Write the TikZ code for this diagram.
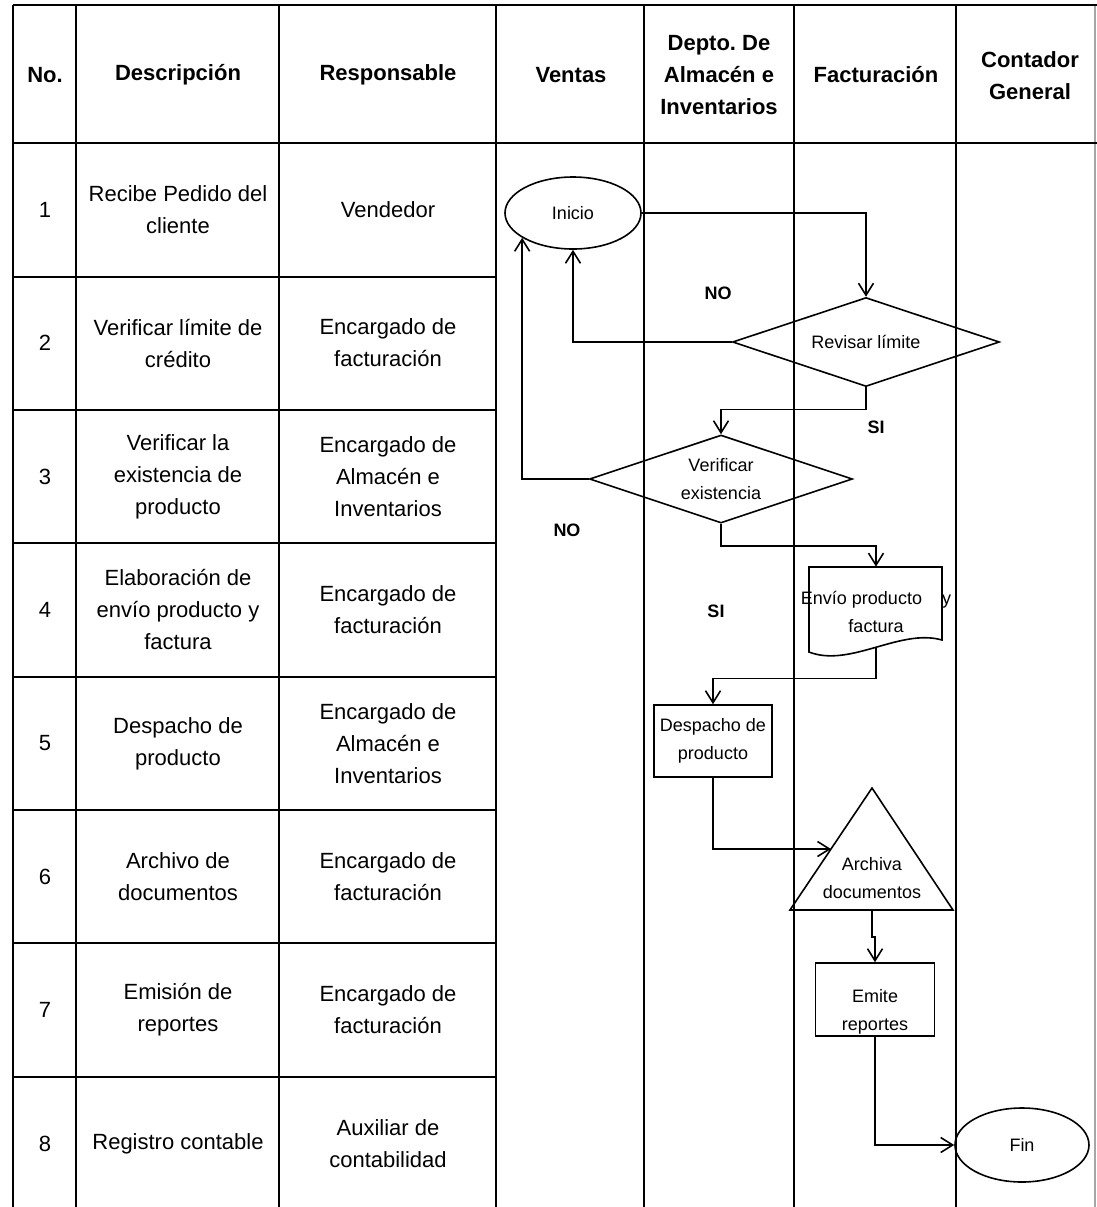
\documentclass[tikz,border=0pt]{standalone}
\usepackage{fontspec}
\setmainfont{Liberation Sans}
\usetikzlibrary{shapes.geometric,arrows.meta}
\frenchspacing

\begin{document}
\begin{tikzpicture}[x=0.5pt, y=-0.5pt, >={Straight Barb[length=6pt,width=7.5pt]},
    every node/.style={font=\fontsize{11}{16}\selectfont, align=center},
    rejilla/.style={line width=1.1pt},
    flujo/.style={line width=0.8pt},
    chico/.style={font=\fontsize{9}{14}\selectfont, inner sep=0pt},
    caja/.style={chico, draw, line width=0.8pt, rectangle},
    decision/.style={chico, draw, line width=0.8pt, diamond, aspect=3},
    terminal/.style={chico, draw, line width=0.8pt, ellipse},
    etiqueta/.style={font=\bfseries\fontsize{9}{14}\selectfont},
    encabezado/.style={font=\bfseries\fontsize{11}{16}\selectfont}]
    \useasboundingbox (0,0) rectangle (1097,1207);
    % table lines
    \foreach \x in {13,76,279,496,644,794,956}
      \draw[rejilla] (\x,5) -- (\x,1207);
    \draw[rejilla, black!35] (1095,5) -- (1095,1207);
    \draw[rejilla] (13,5) -- (1097,5);
    \draw[rejilla] (13,143) -- (1097,143);
    \foreach \y in {277,410,543,677,810,943,1077}
      \draw[rejilla] (13,\y) -- (496,\y);
    % header
    \node[encabezado] (hNo) at (45,75) {No.};
    \node[encabezado] (hDesc) at (178,75) {Descripción};
    \node[encabezado] (hResp) at (388,75) {Responsable};
    \node[encabezado] (hVentas) at (571,75) {Ventas};
    \node[encabezado] (hAlm) at (719,75) {Depto. De\\Almacén e\\Inventarios};
    \node[encabezado] (hFact) at (876,75) {Facturación};
    \node[encabezado] (hCont) at (1030,76) {Contador\\General};
    % rows
    \foreach \i/\d/\r in {1/Recibe Pedido del\\cliente/Vendedor,
        2/Verificar límite de\\crédito/Encargado de\\facturación,
        3/Verificar la\\existencia de\\producto/Encargado de\\Almacén e\\Inventarios,
        4/Elaboración de\\envío producto y\\factura/Encargado de\\facturación,
        5/Despacho de\\producto/Encargado de\\Almacén e\\Inventarios,
        6/Archivo de\\documentos/Encargado de\\facturación,
        7/Emisión de\\reportes/Encargado de\\facturación,
        8/Registro contable/Auxiliar de\\contabilidad}{
      \node (n\i) at (45,{143+133.4*(\i-0.5)}) {\i};
      \node (d\i) at (178,{143+133.4*(\i-0.5)}) {\d};
      \node (r\i) at (388,{143+133.4*(\i-0.5)}) {\r};}
    % flowchart
    \node[terminal, minimum width=68pt, minimum height=36pt] (inicio) at (573,213) {Inicio};
    \node[decision, minimum width=133.5pt, minimum height=44.5pt] (revisar) at (866,342) {Revisar límite};
    \node[decision, minimum width=131.5pt, minimum height=44pt] (verif) at (721,479) {Verificar\\existencia};
    \node[chico, minimum width=66.5pt, minimum height=35pt] (envio) at (876,612) {Envío producto\hspace{10pt}y\\factura};
    \draw[flujo] (809,567) -- (942,567) -- (942,640) .. controls (900,628) and (850,668) .. (809,652) -- cycle;
    \node[caja, minimum width=59pt, minimum height=36pt] (desp) at (713,741) {Despacho de\\producto};
    \coordinate (apex) at (872,788);
    \draw[flujo] (apex) -- (953,910) -- (790,910) -- cycle;
    \coordinate (archL) at (831,849);
    \coordinate (archB) at (872,910);
    \node[chico] (arch) at (872,878) {Archiva\\documentos};
    \node[caja, minimum width=59.5pt, minimum height=36.5pt] (emite) at (875,999.5) {};
    \node[chico] (emiteT) at (875,1012) {Emite\\reportes};
    \node[terminal, minimum width=67pt, minimum height=37pt] (fin) at (1022,1145) {Fin};
    % connectors
    \draw[flujo,->] (inicio.east) -| (revisar.north);
    \draw[flujo,->] (revisar.west) -| (inicio.south);
    \draw[flujo,->] (revisar.south) -- ++(0,22) -| (verif.north);
    \draw[flujo,->] (verif.west) -| (inicio.206);
    \draw[flujo,->] (verif.south) -- ++(0,22) -| ([yshift=5pt]envio.north);
    \draw[flujo,->] (envio.south) -- ++(0,31) -| (desp.north);
    \draw[flujo,->] (desp.south) |- (archL);
    \draw[flujo,->] (archB) -- ++(0,27) -| (emite.north);
    \draw[flujo,->] (emite.south) |- (fin.west);
    % labels
    \node[etiqueta] (no1) at (718,293) {NO};
    \node[etiqueta] (si1) at (876,427) {SI};
    \node[etiqueta] (no2) at (567,530) {NO};
    \node[etiqueta] (si2) at (716,611) {SI};
\end{tikzpicture}
\end{document}
